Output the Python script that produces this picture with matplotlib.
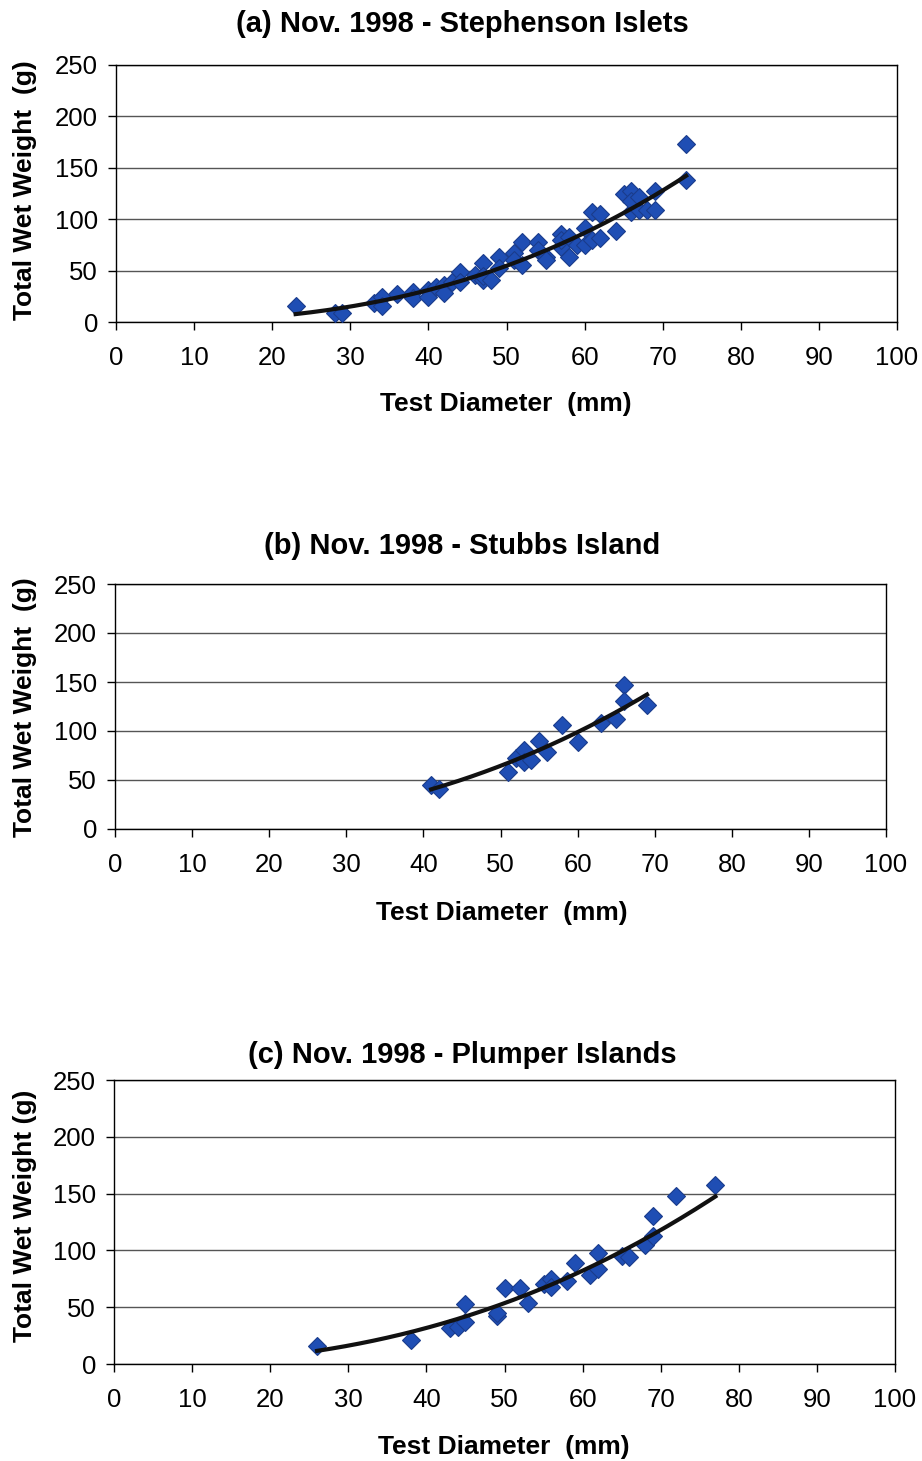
import matplotlib
matplotlib.use("Agg")
import matplotlib.pyplot as plt
import numpy as np

# (a) Stephenson Islets
diam_a = [23, 28, 29, 33, 34, 34, 36, 38, 38, 40, 40, 41, 42, 42, 43, 44, 44, 46, 47, 47,
          47, 48, 49, 49, 51, 51, 52, 52, 54, 54, 55, 55, 57, 57, 57, 58, 58, 59, 60, 60,
          61, 61, 62, 62, 64, 65, 66, 66, 66, 67, 67, 68, 69, 69, 73, 73]
wt_a = [16, 9, 9, 18, 24, 16, 27, 29, 23, 31, 24, 34, 36, 28, 39, 49, 39, 46, 57, 41,
        45, 41, 63, 53, 67, 60, 78, 55, 78, 70, 63, 60, 86, 73, 80, 63, 83, 75, 91, 75,
        107, 80, 105, 82, 89, 125, 127, 107, 118, 109, 122, 109, 127, 109, 173, 138]

# (b) Stubbs Island
diam_b = [41, 42, 51, 52, 53, 53, 54, 55, 56, 58, 60, 63, 65, 66, 66, 69]
wt_b = [45, 41, 58, 72, 81, 68, 70, 90, 79, 106, 89, 108, 112, 147, 131, 127]

# (c) Plumper Islands
diam_c = [26, 38, 43, 44, 45, 45, 49, 49, 50, 52, 53, 55, 56, 56, 58, 59, 61, 62, 62,
          65, 66, 68, 69, 69, 72, 77]
wt_c = [16, 21, 32, 33, 37, 53, 42, 45, 67, 67, 54, 70, 75, 68, 73, 89, 78, 84, 98,
        95, 94, 105, 113, 130, 148, 158]

titles = ["(a) Nov. 1998 - Stephenson Islets",
          "(b) Nov. 1998 - Stubbs Island",
          "(c) Nov. 1998 - Plumper Islands"]
ylabels = ["Total Wet Weight  (g)", "Total Wet Weight  (g)", "Total Wet Weight (g)"]
xlabel = "Test Diameter  (mm)"
xticks = [0, 10, 20, 30, 40, 50, 60, 70, 80, 90, 100]
yticks = [0, 50, 100, 150, 200, 250]

W, H = 922, 1461
fig = plt.figure(figsize=(W / 100, H / 100), dpi=100)

# axes boxes in pixels: left, right, top, bottom
boxes = [(116, 897, 65, 322), (115, 886, 584, 829), (114, 895, 1080, 1364)]
title_y = [24, 546, 1055]
xlab_pos = [(506, 404), (502, 913), (504, 1447)]
ylab_y = [190, 707, 1216]

sans = ["Liberation Sans", "DejaVu Sans"]

data = [(diam_a, wt_a), (diam_b, wt_b), (diam_c, wt_c)]

for i, (xs, ys) in enumerate(data):
    l, r, t, b = boxes[i]
    ax = fig.add_axes([l / W, 1 - b / H, (r - l) / W, (b - t) / H])
    ax.set_xlim(0, 100)
    ax.set_ylim(0, 250)
    ax.set_xticks(xticks)
    ax.set_yticks(yticks)
    ax.yaxis.grid(True, color="#555555", linewidth=1.0)
    ax.set_axisbelow(True)
    for s in ax.spines.values():
        s.set_color("black")
        s.set_linewidth(1.0)
    ax.tick_params(direction="out", length=6, width=1, labelsize=18.5)
    ax.tick_params(axis="x", pad=11)
    ax.tick_params(axis="y", pad=7)
    for lab in ax.get_xticklabels() + ax.get_yticklabels():
        lab.set_family(sans)

    x = np.array(xs, float)
    y = np.array(ys, float)
    ax.plot(x, y, linestyle="none", marker="D", markersize=9,
            markerfacecolor="#1F4EB4", markeredgecolor="#1A3C8C", markeredgewidth=0.8, zorder=3)

    # power trendline y = a*x^b
    bcoef, lna = np.polyfit(np.log(x), np.log(y), 1)
    xf = np.linspace(x.min(), x.max(), 200)
    ax.plot(xf, np.exp(lna) * xf ** bcoef, color="#111111", linewidth=3, zorder=4)

    fig.text(462 / W, 1 - title_y[i] / H, titles[i], ha="center", va="center",
             fontsize=21, fontweight="bold", family=sans)
    fig.text(xlab_pos[i][0] / W, 1 - xlab_pos[i][1] / H, xlabel, ha="center", va="center",
             fontsize=19, fontweight="bold", family=sans)
    fig.text(25 / W, 1 - ylab_y[i] / H, ylabels[i], ha="center", va="center", rotation=90,
             fontsize=19, fontweight="bold", family=sans)

fig.savefig("out.png", dpi=100)
